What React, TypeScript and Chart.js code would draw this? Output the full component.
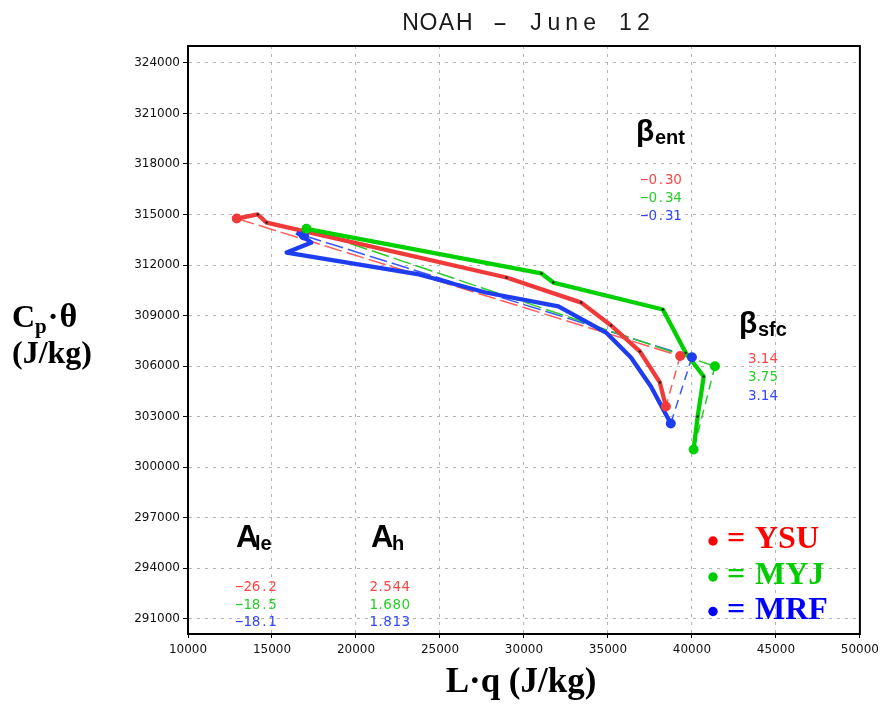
import React, { useEffect, useRef } from "react";
import { Chart, registerables } from "chart.js";

Chart.register(...registerables);

// ---- axis ticks ----
const xTicks = [10000, 15000, 20000, 25000, 30000, 35000, 40000, 45000, 50000];
const yTicks = [291000, 294000, 297000, 300000, 303000, 306000, 309000, 312000, 315000, 318000, 321000, 324000];

// ---- thick evolution paths (L·q, Cp·θ) ----
const ysuLq = [12900, 14150, 14680, 28960, 33410, 35190, 36900, 38090, 38450];
const ysuCpTheta = [314760, 315000, 314520, 311260, 309770, 308410, 306870, 305030, 303600];

const myjLq = [17050, 31040, 31750, 38270, 39630, 40700, 40340, 40100];
const myjCpTheta = [314150, 311500, 310960, 309360, 306790, 305380, 303010, 301050];

const mrfLq = [16460, 17350, 15870, 23750, 27720, 32050, 34890, 36370, 37560, 38740];
const mrfCpTheta = [313930, 313340, 312740, 311440, 310370, 309540, 307990, 306510, 304790, 302590];

// ---- key points: start, surface, end ----
const ysuKeyLq = [12900, 39300, 38450];
const ysuKeyCpTheta = [314760, 306600, 303600];
const myjKeyLq = [17050, 41370, 40100];
const myjKeyCpTheta = [314150, 305990, 301050];
const mrfKeyLq = [16900, 40000, 38740];
const mrfKeyCpTheta = [313750, 306530, 302590];

// ---- annotation values ----
const titleText = "NOAH - June 12";
const models = ["YSU", "MYJ", "MRF"];
const betaEnt = ["-0.30", "-0.34", "-0.31"];
const betaSfc = ["3.14", "3.75", "3.14"];
const aLe = ["-26.2", "-18.5", "-18.1"];
const aH = ["2.544", "1.680", "1.813"];

const thickColors = ["rgb(240,58,58)", "rgb(0,208,0)", "rgb(30,60,240)"];
const thinColors = ["rgb(255,90,90)", "rgb(40,205,40)", "rgb(60,85,255)"];
const textColors = ["rgb(255,70,70)", "rgb(40,205,40)", "rgb(50,70,255)"];
const legendColors = ["#ff0000", "#00cc00", "#0000ff"];

const pts = (xs: number[], ys: number[]) => xs.map((x, i) => ({ x, y: ys[i] }));

function drawText(ctx: CanvasRenderingContext2D, s: string, x: number, y: number, font: string, color: string, align: CanvasTextAlign = "left", spacing = "0px") {
  ctx.save();
  ctx.font = font;
  ctx.fillStyle = color;
  ctx.textAlign = align;
  ctx.textBaseline = "alphabetic";
  (ctx as any).letterSpacing = spacing;
  ctx.fillText(s, x, y);
  ctx.restore();
}

// fixed-pitch drawing with a proportional font (GrADS-like look); hyphens drawn wide
function drawPitched(ctx: CanvasRenderingContext2D, s: string, xCenter: number, y: number, pitch: number, font: string, color: string) {
  const start = xCenter - (s.length * pitch) / 2;
  for (let i = 0; i < s.length; i++) {
    const cx = start + (i + 0.5) * pitch;
    if (s[i] === "-") {
      ctx.save();
      ctx.translate(cx, y);
      ctx.scale(1.9, 1);
      drawText(ctx, s[i], 0, 0, font, color, "center");
      ctx.restore();
    } else {
      drawText(ctx, s[i], cx, y, font, color, "center");
    }
  }
}

const overlay = {
  id: "overlay",
  afterDraw(chart: any) {
    const ctx: CanvasRenderingContext2D = chart.ctx;
    const a = chart.chartArea;
    // plot box
    ctx.save();
    ctx.strokeStyle = "#000";
    ctx.lineWidth = 2;
    ctx.strokeRect(a.left, a.top, a.right - a.left, a.bottom - a.top);
    ctx.restore();

    // title
    drawPitched(ctx, titleText, 527, 30, 17.9, '23px "Liberation Sans"', "#1a1a1a");

    // y-axis title
    const serifB = (n: number) => `bold ${n}px "Liberation Serif"`;
    ctx.save();
    ctx.font = serifB(32);
    let x = 12;
    drawText(ctx, "C", x, 327, serifB(32), "#000");
    x += ctx.measureText("C").width;
    drawText(ctx, "p", x, 333, serifB(21), "#000");
    ctx.font = serifB(21);
    x += ctx.measureText("p").width + 1;
    drawText(ctx, "·", x, 327, serifB(32), "#000");
    ctx.font = serifB(32);
    x += ctx.measureText("·").width + 1;
    drawText(ctx, "θ", x, 327, serifB(34), "#000");
    ctx.restore();
    drawText(ctx, "(J/kg)", 12, 363, serifB(32), "#000");

    // x-axis title
    drawText(ctx, "L·q (J/kg)", 521, 692, serifB(35), "#000", "center");

    const sansB = (n: number) => `bold ${n}px "Liberation Sans"`;
    const num = '13.5px "DejaVu Sans"';

    // beta_ent
    drawText(ctx, "β", 636, 141, sansB(30), "#000");
    drawText(ctx, "ent", 655, 144, sansB(20), "#000");
    betaEnt.forEach((v, i) => drawPitched(ctx, v, 661, 184 + i * 18, 8.3, num, textColors[i]));

    // beta_sfc
    drawText(ctx, "β", 739, 333, sansB(30), "#000");
    drawText(ctx, "sfc", 758, 336, sansB(20), "#000");
    betaSfc.forEach((v, i) => drawText(ctx, v, 763, 363 + i * 18.3, num, textColors[i], "center"));

    // A_le and A_h
    drawText(ctx, "A", 236, 547, sansB(31), "#000");
    drawText(ctx, "le", 255, 550, sansB(20), "#000");
    drawText(ctx, "A", 371, 547, sansB(31), "#000");
    drawText(ctx, "h", 392, 550, sansB(20), "#000");
    aLe.forEach((v, i) => drawPitched(ctx, v, 256, 591 + i * 17.5, 8.3, num, textColors[i]));
    aH.forEach((v, i) => drawText(ctx, v, 390, 591 + i * 17.5, num, textColors[i], "center", "0.5px"));

    // legend
    const baselines = [548, 584, 618.5];
    models.forEach((m, i) => {
      ctx.save();
      ctx.fillStyle = legendColors[i];
      ctx.beginPath();
      ctx.arc(713, baselines[i] - 7, 4.7, 0, Math.PI * 2);
      ctx.fill();
      ctx.restore();
      drawText(ctx, "=", 727, baselines[i], serifB(32), legendColors[i]);
      drawText(ctx, m, 755, baselines[i], serifB(32), legendColors[i]);
    });
  },
};

export default function App() {
  const ref = useRef<HTMLCanvasElement | null>(null);

  useEffect(() => {
    if (!ref.current) return;
    const key = [
      pts(ysuKeyLq, ysuKeyCpTheta),
      pts(myjKeyLq, myjKeyCpTheta),
      pts(mrfKeyLq, mrfKeyCpTheta),
    ];
    const paths = [
      pts(ysuLq, ysuCpTheta),
      pts(myjLq, myjCpTheta),
      pts(mrfLq, mrfCpTheta),
    ];
    const dotOrder = [1, 2, 0];
    const thickOrder = [1, 2, 0];
    const datasets: any[] = [];
    dotOrder.forEach((i) =>
      datasets.push({
        data: key[i],
        showLine: false,
        pointRadius: 5,
        pointBackgroundColor: thickColors[i],
        pointBorderWidth: 0,
      })
    );
    thickOrder.forEach((i) =>
      datasets.push({
        data: paths[i],
        showLine: true,
        borderColor: thickColors[i],
        borderWidth: 4.3,
        borderJoinStyle: "round",
        pointRadius: paths[i].map((_, j) => (j === 0 || j === paths[i].length - 1 || i === 2 ? 0 : 1.3)),
        pointBackgroundColor: "#222",
        pointBorderWidth: 0,
        tension: 0,
      })
    );
    [0, 1, 2].forEach((i) => {
      datasets.push({
        data: [key[i][0], key[i][1]],
        showLine: true,
        borderColor: thinColors[i],
        borderWidth: 1.5,
        borderDash: [18, 5],
        pointRadius: 0,
      });
      datasets.push({
        data: [key[i][1], key[i][2]],
        showLine: true,
        borderColor: thinColors[i],
        borderWidth: 1.5,
        borderDash: [9, 6],
        pointRadius: 0,
      });
    });

    const tickFont = { family: '"DejaVu Sans"', size: 12 };
    const chart = new Chart(ref.current, {
      type: "scatter",
      data: { datasets },
      options: {
        animation: false,
        responsive: false,
        devicePixelRatio: 1,
        layout: { padding: { top: 46, right: 21, left: 0, bottom: 0 } },
        plugins: { legend: { display: false }, tooltip: { enabled: false }, title: { display: false } },
        scales: {
          x: {
            type: "linear",
            min: 10000,
            max: 50000,
            afterBuildTicks: (s: any) => {
              s.ticks = xTicks.map((v) => ({ value: v }));
            },
            afterFit: (s: any) => {
              s.height = 70;
            },
            ticks: { font: tickFont, color: "#111", padding: 5, maxRotation: 0, autoSkip: false, callback: (v: any) => String(v) },
            grid: { color: "#b4b4b4", lineWidth: 1, tickColor: "#000", tickLength: 4, drawTicks: true },
            border: { display: true, color: "#000", width: 2, dash: [3, 5] },
          },
          y: {
            type: "linear",
            min: 290100,
            max: 325000,
            afterBuildTicks: (s: any) => {
              s.ticks = yTicks.map((v) => ({ value: v }));
            },
            afterFit: (s: any) => {
              s.width = 188;
            },
            ticks: { font: tickFont, color: "#111", padding: 3, autoSkip: false, callback: (v: any) => String(v) },
            grid: { color: "#b4b4b4", lineWidth: 1, tickColor: "#000", tickLength: 5, drawTicks: true },
            border: { display: true, color: "#000", width: 2, dash: [3, 5] },
          },
        },
      },
      plugins: [overlay],
    });
    return () => chart.destroy();
  }, []);

  return (
    <div style={{ position: "fixed", left: 0, top: 0, width: 884, height: 704, background: "#fff" }}>
      <canvas ref={ref} width={884} height={704} style={{ position: "absolute", left: 0, top: 0, width: 884, height: 704 }} />
    </div>
  );
}
